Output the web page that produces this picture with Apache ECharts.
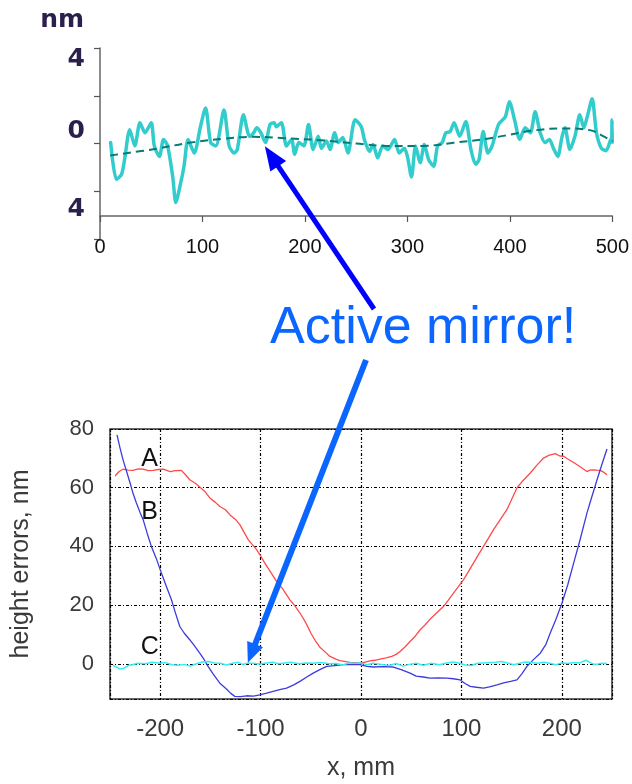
<!DOCTYPE html>
<html><head><meta charset="utf-8">
<script src="https://cdn.jsdelivr.net/npm/echarts@6/dist/echarts.min.js"></script>
<style>html,body{margin:0;padding:0;background:#fff}#c{width:632px;height:784px}</style>
</head><body><div id="c"></div>
<script>
// ---- Top chart: surface profile (nm) vs position ----
const profileX = [10.4,16,21,24,29,34,39,44,50,53,58,62,66,71,74,79,82,86,92,98,103,108,113,121,126,131,134,140,146,150,153,157,161.5,166,170,172,177,182,187,190,194,199,203.5,208,213,216,221,224.5,229,232.5,237,242,249,255,258,263,266.5,271,276,281,287.5,292,297,300,304,308,312.5,316.5,320.7,325.6,329.5,334,337.5,341.7,345.6,351,357,362,366.6,370,374,378.6,382.7,389,395.6,399.5,405,409.6,415,420,424.7,429.6,434.5,438.6,442.5,446.7,451,453.8,458.6,463.5,468.3,472.2,475.5,480.3,484.5,489.3,494,499,499.4,499.7,500];
const profileNm = [0.04,-1.5,-1.3,-0.67,0.58,-0.1,0.87,0.45,0.87,-0.1,-0.54,0.17,-0.1,-1.4,-2.47,-1.6,-0.95,0.17,-0.4,0.7,1.49,0.04,-0.1,1.4,-0.1,-0.4,-0.25,1.2,0.3,0.45,0.66,0.45,0.04,0.8,0.87,0.7,0.87,-0.1,0.17,-0.45,0.04,-0.1,0.8,-0.25,0.3,-0.2,0.1,-0.25,0.45,0.04,0.25,-0.4,1.0,0.7,0.17,-0.33,-0.04,-0.6,-0.1,-0.25,0.17,-0.4,-0.2,-0.54,-1.4,-0.1,-0.8,-0.04,-0.67,-0.95,-0.1,0.04,0.45,0.5,0.87,0.3,0.92,-0.25,-0.87,-0.67,0.5,-0.4,-0.1,0.8,1.12,1.75,0.92,0.17,0.66,0.45,1.33,0.45,0.04,0.17,-0.2,-0.54,0.3,0.66,-0.25,0.3,1.2,0.66,1.12,1.87,0.45,-0.2,-0.3,0.2,0.1,1.0,0.05];
const trendX = [10,55,87,120,150,180,215,250,280,315,345,378,395,426,452,478,491,500];
const trendNm = [-0.5,-0.22,0.03,0.2,0.28,0.22,0.14,0,-0.1,-0.1,0.03,0.2,0.33,0.56,0.63,0.56,0.31,0.1];
const topXTicks = [0,100,200,300,400,500];
const topYLabelValues = [3.5, 0.5, -2.75];
const topYLabels = ['4','0','4'];

// ---- Bottom chart: height errors ----
const aX = [-245,-241,-237,-232,-227,-222,-217,-212,-207,-202,-197,-190,-185,-179,-175,-170.6,-165,-160.6,-155,-150.6,-145,-140.6,-135,-130.7,-125,-120.7,-116,-112.4,-108,-104,-100,-95.8,-90,-84,-78,-70.8,-66,-60.8,-55,-50,-45,-40.9,-35,-30.9,-25,-21,-15,-11,-5,-1,4,9,14,19,25,30.6,35,38.9,44,48.9,54,58.9,64,68.8,75,82.1,87,92.1,97,102,107,112,117,122,127,132,138,145.3,150,155.3,161,168.6,175,181.8,187,193.5,198,201.8,206,211.8,218,225,228,231.7,235,238.4,242,245];
const aY = [64,65.5,66.3,66,65.9,66.4,66.3,65.8,65.9,66.2,66.3,65.5,65.8,65.9,64.5,62.7,61.5,60.2,58.5,56.5,55,53.6,52.5,50.8,49.2,47.4,44.5,42.3,40.5,38.9,36.8,34.3,31.2,28,25.5,21.8,19.8,17.3,14,10.5,7.6,5.6,3.8,2.5,1.6,1.1,0.7,0.45,0.4,0.2,0.6,1.0,1.2,1.6,2.0,2.5,3.2,4.2,5.8,7.6,9.4,11.6,13.3,15.2,17.2,19.5,21.7,24.1,26.3,28.6,31.4,34.3,37.2,40,42.8,45.7,48.8,52.5,56,59.9,62.3,65,67.6,70.1,71,71.6,70.8,70.7,69.8,68.6,67.2,65.5,66,66.1,66,65.9,65.2,64.4];
const bX = [-243,-240,-237,-233,-230,-227,-223.7,-220,-217,-213,-208.8,-204,-198.8,-194,-188.8,-185,-180.5,-176,-170.6,-166,-160.6,-156,-152.3,-147,-140.6,-134,-130,-125.7,-120,-114,-107,-100.7,-94,-87.5,-81,-74.1,-67,-60.8,-54,-47.6,-41,-34.2,-26,-17.7,-9,-1,6,12.3,22,32.2,40,48.9,55,62,68.8,77,85.5,92,98.8,104,108.7,115,122,128,135.4,142,149,155.3,160,165.3,172,178.6,184,188.5,194,200.2,206,211.8,218,225.1,230,235.1,240,245];
const bY = [78,73.5,69.5,65,61.6,58,54.8,51.5,49.1,44.5,40,36,30.9,26.5,21.8,17.5,12.7,10.4,8.2,6.2,3.6,1.3,-0.9,-3.6,-6.6,-8.6,-10,-11.1,-11.2,-10.9,-11,-10.6,-10,-9.4,-8.8,-8.3,-7.2,-6,-4.5,-3.2,-2,-0.9,-0.6,-0.3,-0.2,-0.3,-0.9,-1.1,-1.0,-1.1,-2.0,-3.2,-4.2,-4.5,-4.9,-4.8,-4.9,-5.1,-5.5,-6.8,-7.7,-8,-8.3,-7.9,-7.2,-6.5,-6,-5.5,-3.5,-0.9,1.5,3.6,6.5,10.5,15,20.7,27,34.3,42,51.4,57,62.7,68,73.2];
const cX = [-247,-243,-240,-236,-232,-228,-222,-215,-208,-200,-195,-188,-182,-176,-170,-164,-158,-152,-146,-140,-134,-128,-122,-118,-112,-106,-100,-94,-88,-82,-76,-70,-62,-55,-48,-40,-32,-25,-18,-12,-6,0,6,12,20,28,35,42,48,55,62,70,78,85,92,98,104,110,116,122,128,134,140,146,152,158,164,170,176,182,188,194,200,206,212,218,224,228,232,236,240,245];
const cY = [-0.5,-1.2,-1.8,-1.5,-0.6,-0.3,0.2,0,0.5,0.2,0.4,-0.3,-0.5,-0.2,-0.8,0,0.6,0.8,0.3,0.2,-0.4,0.2,0.5,-0.2,0.3,0.1,-0.1,0.3,0.5,0,0.3,0.5,0,0.3,0.2,0.4,0,0.1,-0.4,0.3,0.2,0.3,-0.3,0.2,-0.2,-0.6,0.1,-0.8,-0.2,0.2,-0.5,0.2,-0.3,0.3,0.6,0.2,-0.4,-0.6,0.2,0.3,0.4,0.5,0.8,0.3,-0.3,0.2,0.6,0.4,0.2,0.5,0.2,-0.3,0.3,0.1,0.4,0.3,1.2,0.5,-0.2,-0.1,0.2,0.1];
const curveNames = ['A','B','C'];
const curveLabelX = [-210.5,-210.5,-210.5];
const curveLabelY = [69.9,51.8,5.8];

// annotation
const calloutText = 'Active mirror!';
const arrowTargets = [{grid:0, x:160.9, y:-0.12}, {grid:1, x:-112.7, y:0.35}];

const zip = (xs, ys) => xs.map((x, i) => [x, ys[i]]);

const chart = echarts.init(document.getElementById('c'), null, {renderer:'canvas'});
const sansB = 'DejaVu Sans';
const navy = '#2b1f4e';
const option = {
  backgroundColor:'#ffffff',
  animation:false,
  grid:[
    {left:100, top:48, width:516, height:191, show:false},
    {left:110, top:429, width:502, height:270, show:true, borderColor:'#333', borderWidth:1.5, backgroundColor:'transparent'}
  ],
  xAxis:[
    {gridIndex:0, type:'value', position:'bottom', min:0, max:500, interval:100, offset:-23,
     axisLine:{show:true, onZero:false, lineStyle:{color:'#666', width:1.5}},
     axisTick:{show:true, length:6, lineStyle:{color:'#555', width:1.2}},
     axisLabel:{show:true, margin:21, fontSize:20, color:'#111', fontFamily:'Liberation Sans',
       formatter: v => topXTicks.includes(v) ? String(v) : ''},
     splitLine:{show:false}},
    {gridIndex:1, type:'value', position:'bottom', min:-250, max:250, splitNumber:5,
     axisLine:{show:false, onZero:false}, axisTick:{show:false},
     axisLabel:{show:true, margin:18, fontSize:24, color:'#3a3a3a', fontFamily:'Liberation Sans', showMinLabel:false, showMaxLabel:false},
     splitLine:{show:true, lineStyle:{color:'#000', width:1.2, type:[3,2,1,2]}},
     name:'x, mm', nameLocation:'middle', nameGap:57,
     nameTextStyle:{fontSize:25, color:'#3a3a3a', fontFamily:'Liberation Sans'}}
  ],
  yAxis:[
    {gridIndex:0, type:'value', position:'left', min:-4, max:4, interval:2,
     axisLine:{show:true, onZero:false, lineStyle:{color:'#666', width:1.5}},
     axisTick:{show:true, length:6, lineStyle:{color:'#555', width:1.2}},
     axisLabel:{show:false}, splitLine:{show:false}},
    {gridIndex:0, type:'value', position:'left', offset:0, min:-4, max:4, interval:0.25,
     axisLine:{show:false, onZero:false}, axisTick:{show:false}, splitLine:{show:false},
     axisLabel:{show:true, margin:15, fontSize:25, fontWeight:'bold', color:navy, fontFamily:sansB,
       formatter: v => { const i = topYLabelValues.indexOf(v); return i >= 0 ? topYLabels[i] : ''; }},
     name:'nm', nameLocation:'end', nameGap:15,
     nameTextStyle:{fontSize:25, fontWeight:'bold', color:navy, fontFamily:sansB, align:'right', padding:[0,16,0,0]}},
    {gridIndex:1, type:'value', position:'left', min:-12, max:80, splitNumber:5,
     axisLine:{show:false, onZero:false}, axisTick:{show:false},
     axisLabel:{show:true, margin:16, fontSize:22, color:'#3a3a3a', fontFamily:'Liberation Sans', showMinLabel:false},
     splitLine:{show:true, lineStyle:{color:'#000', width:1.2, type:[3,2,1,2]}},
     name:'height errors, nm', nameLocation:'middle', nameGap:76, nameRotate:90,
     nameTextStyle:{fontSize:25, color:'#3a3a3a', fontFamily:'Liberation Sans'}}
  ],
  series:[
    {type:'line', xAxisIndex:0, yAxisIndex:0, data:zip(profileX, profileNm), showSymbol:false, symbol:'none', smooth:0.25,
     lineStyle:{color:'#33cccc', width:3.5, cap:'round', join:'round'}, z:3},
    {type:'line', xAxisIndex:0, yAxisIndex:0, data:zip(trendX, trendNm), showSymbol:false, symbol:'none', smooth:0.4,
     lineStyle:{color:'#067a76', width:2, type:[8,5]}, z:4},
    {type:'line', xAxisIndex:1, yAxisIndex:2, data:zip(aX, aY), showSymbol:false, symbol:'none',
     lineStyle:{color:'#ff4a4a', width:1.3}, z:3},
    {type:'line', xAxisIndex:1, yAxisIndex:2, data:zip(bX, bY), showSymbol:false, symbol:'none',
     lineStyle:{color:'#3c3cdc', width:1.3}, z:3},
    {type:'line', xAxisIndex:1, yAxisIndex:2, data:zip(cX, cY), showSymbol:false, symbol:'none',
     lineStyle:{color:'#33f0f0', width:1.5}, z:3}
  ]
};
chart.setOption(option);

function arrow(tail, tip, lw, headLen, headW, color) {
  const dx = tip[0]-tail[0], dy = tip[1]-tail[1];
  const L = Math.hypot(dx, dy), ux = dx/L, uy = dy/L, nx = -uy, ny = ux;
  const bx = tip[0]-ux*headLen, by = tip[1]-uy*headLen;
  return [
    {type:'line', z:100, shape:{x1:tail[0], y1:tail[1], x2:bx+ux*2, y2:by+uy*2}, style:{stroke:color, lineWidth:lw}},
    {type:'polygon', z:100, shape:{points:[[tip[0],tip[1]],[bx+nx*headW/2, by+ny*headW/2],[bx-nx*headW/2, by-ny*headW/2]]}, style:{fill:color}}
  ];
}
const tip1 = chart.convertToPixel({gridIndex:arrowTargets[0].grid}, [arrowTargets[0].x, arrowTargets[0].y]);
const tip2 = chart.convertToPixel({gridIndex:arrowTargets[1].grid}, [arrowTargets[1].x, arrowTargets[1].y]);
const labelEls = curveNames.map((n, i) => {
  const p = chart.convertToPixel({gridIndex:1}, [curveLabelX[i], curveLabelY[i]]);
  return {type:'text', z:50, x:p[0], y:p[1], style:{text:n, fontSize:25, fontFamily:'Liberation Sans', fill:'#111', align:'center', verticalAlign:'middle'}};
});
chart.setOption({graphic:[
  ...labelEls,
  ...arrow([374,309], tip1, 5, 24, 19, '#0000ff'),
  ...arrow([366,360], tip2, 6, 20, 17, '#0a66ff'),
  {type:'text', z:100, x:270, y:329, style:{text:calloutText, fontSize:52, fontFamily:'Liberation Sans', fill:'#0a66ff', align:'left', verticalAlign:'middle'}}
]});
</script>
</body></html>
